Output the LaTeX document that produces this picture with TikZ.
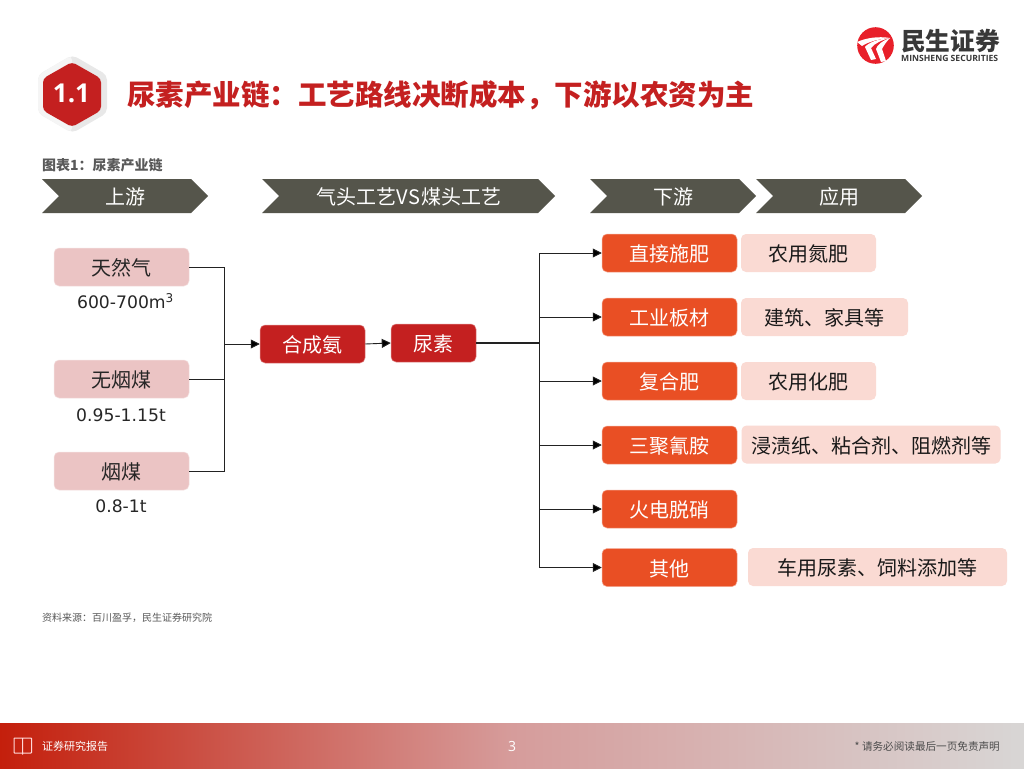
\documentclass[tikz,border=0pt]{standalone}
\usepackage{fontspec}
\setmainfont{Noto Sans CJK SC}
\newfontfamily\latinf{Open Sans}
\newfontfamily\subf{DejaVu Sans}
\usetikzlibrary{arrows.meta,shapes.geometric}
\definecolor{cred}{HTML}{C42020}
\definecolor{corange}{HTML}{E94F24}
\definecolor{cpink}{HTML}{EBC4C4}
\definecolor{clight}{HTML}{FADAD3}
\definecolor{cchev}{HTML}{55554B}
\definecolor{cline}{HTML}{222222}
\definecolor{footl}{HTML}{C41F0C}
\definecolor{footm}{HTML}{D69C9B}
\definecolor{footr}{HTML}{D8D6D5}
\definecolor{clogo}{HTML}{E8202A}
\tikzset{
  x=1pt,y=-1pt,
  boxbase/.style={rounded corners=5pt,inner sep=0pt,font=\fontsize{20}{24}\selectfont,text depth=0pt,text height=17.5pt},
  srcbox/.style={boxbase,fill=cpink,draw=cpink!50!white,line width=.5pt,text=black!85,minimum width=135pt,minimum height=38pt},
  redbox/.style={boxbase,fill=cred,draw=cred!50!white,line width=.5pt,text=white,minimum height=38pt},
  orbox/.style={boxbase,fill=corange,draw=corange!50!white,line width=.5pt,text=white,minimum width=135pt,minimum height=38pt},
  appbox/.style={boxbase,fill=clight,text=black!90,minimum height=38pt},
  chev/.style={fill=cchev,draw=none},
  chevtext/.style={text=white,inner sep=0pt,font=\fontsize{20}{24}\selectfont},
  sub/.style={inner sep=0pt,text=black!85,font=\subf\fontsize{17.2}{20}\selectfont},
  conn/.style={draw=cline,line width=.9pt},
  arr/.style={conn,-{Triangle[length=9pt,width=9pt,fill=black]}},
  plain/.style={inner sep=0pt}
}
\begin{document}
\begin{tikzpicture}
\useasboundingbox (0,0) rectangle (1024,768);
\fill[white] (0,0) rectangle (1024,768);
% footer
\shade[left color=footl,right color=footr,middle color=footm] (0,723) rectangle (1024,768);
% hexagon badge
\fill[black!9,rounded corners=5pt] (72.5,55) -- (107,75) -- (107,113) -- (72.5,133) -- (38,113) -- (38,75) -- cycle;
\fill[black!4,rounded corners=5pt] (72,55) -- (72,133) -- (38,113) -- (38,75) -- cycle;
\fill[cred,rounded corners=4pt] (72,62) -- (101,78.5) -- (101,110.5) -- (72,127) -- (43,110.5) -- (43,78.5) -- cycle;
\node[plain,text=white,font=\latinf\fontsize{26}{30}\bfseries\selectfont] (badge) at (71.5,93) {1.1};
\node[plain,anchor=west,text=cred,font=\fontsize{28.5}{32}\bfseries\selectfont] (title) at (127,95) {尿素产业链：工艺路线决断成本，下游以农资为主};
% logo
\fill[clogo] (875.5,45.5) circle (18.3);
\begin{scope}
\clip (875.5,45.5) circle (18.3);
\fill[white] (890,38) .. controls (878,36) and (866,38) .. (857,42) -- (862,46) .. controls (868,42) and (878,39) .. cycle;
\fill[white] (890,38) .. controls (877,39) and (868,43) .. (865,47) -- (871,60) -- (876,59) -- (871,48) .. controls (875,43) and (882,40) .. cycle;
\fill[white] (890,38) .. controls (882,41) and (877,45) .. (876,49) -- (881,62) -- (886,61) -- (882,49) .. controls (884,45) and (887,41) .. cycle;
\end{scope}
\node[plain,anchor=west,text=black!78,font=\fontsize{24.7}{28}\bfseries\selectfont] (logocn) at (901,41) {民生证券};
\node[plain,anchor=west,text=black!78,font=\latinf\fontsize{8.6}{10}\bfseries\selectfont] (logoen) at (901,58) {MINSHENG SECURITIES};
% caption
\node[plain,anchor=west,text=black!65,font=\fontsize{14}{16}\bfseries\selectfont] (cap) at (42,165) {图表1：尿素产业链};
% chevrons
\fill[chev] (42,179) -- (191,179) -- (208,196) -- (191,213) -- (42,213) -- (59,196) -- cycle;
\fill[chev] (262,179) -- (538,179) -- (555,196) -- (538,213) -- (262,213) -- (279,196) -- cycle;
\fill[chev] (590,179) -- (739,179) -- (756,196) -- (739,213) -- (590,213) -- (607,196) -- cycle;
\fill[chev] (756,179) -- (905,179) -- (922,196) -- (905,213) -- (756,213) -- (773,196) -- cycle;
\node[chevtext] (h1) at (125,197) {上游};
\node[chevtext] (h2) at (409,197) {气头工艺V\kern.4pt S\kern.4pt 煤头工艺};
\node[chevtext] (h3) at (673,197) {下游};
\node[chevtext] (h4) at (839,197) {应用};
% sources
\node[srcbox] (s1) at (121.5,267) {天然气};
\node[srcbox] (s2) at (121.5,379) {无烟煤};
\node[srcbox] (s3) at (121.5,471) {烟煤};
\node[sub] (l1) at (125.5,301) {600-700m\textsuperscript{3}};
\node[sub] (l2) at (121,415) {0.95-1.15t};
\node[sub] (l3) at (121,506) {0.8-1t};
% centre
\node[redbox,minimum width=105pt] (hca) at (312.5,344) {合成氨};
\node[redbox,minimum width=85pt] (ns) at (433.5,343) {尿素};
% downstream
\node[orbox] (t1) at (669.5,253) {直接施肥};
\node[orbox] (t2) at (669.5,317) {工业板材};
\node[orbox] (t3) at (669.5,381) {复合肥};
\node[orbox] (t4) at (669.5,445) {三聚氰胺};
\node[orbox] (t5) at (669.5,509) {火电脱硝};
\node[orbox] (t6) at (669.5,567.5) {其他};
% applications
\node[appbox,minimum width=135pt] (a1) at (808.5,253) {农用氮肥};
\node[appbox,minimum width=167pt] (a2) at (824.5,317) {建筑、家具等};
\node[appbox,minimum width=135pt] (a3) at (808.5,381) {农用化肥};
\node[appbox,minimum width=259pt] (a4) at (871,444.5) {浸渍纸、粘合剂、阻燃剂等};
\node[appbox,minimum width=259pt] (a6) at (877.5,567) {车用尿素、饲料添加等};
% connectors
\coordinate (j1) at (224,344);
\coordinate (j2) at (539,343);
\draw[conn] (s1.east) -| (j1);
\draw[conn] (s2.east) -- (s2.east -| j1);
\draw[conn] (s3.east) -| (j1);
\draw[arr] (j1) -- (hca.west);
\draw[arr] (hca.east) -- (ns.west);
\draw[conn,line width=1.4pt] (ns.east) -- (j2);
\draw[arr] (j2) |- (t1.west);
\draw[arr] (j2) |- (t2.west);
\draw[arr] (j2) |- (t3.west);
\draw[arr] (j2) |- (t4.west);
\draw[arr] (j2) |- (t5.west);
\draw[arr] (j2) |- (t6.west);
% source note
\node[plain,anchor=west,text=black!65,font=\fontsize{10}{12}\selectfont] (src) at (42,617.5) {资料来源：百川盈孚，民生证券研究院};
% footer contents
\draw[white!85!red,line width=1pt,rounded corners=.6pt] (22.5,738) -- (14,738) -- (14,753) -- (22.5,753) -- (31.5,753) -- (31.5,738) -- (22.5,738) -- (22.5,754.5);
\node[plain,anchor=west,text=white,font=\fontsize{11}{13}\selectfont] (rep) at (42,746) {证券研究报告};
\node[plain,text=white,font=\latinf\fontsize{14}{16}\selectfont] (pg) at (512,746) {3};
\node[plain,anchor=east,text=black!70,font=\fontsize{10.6}{13}\selectfont] (dis) at (1000,746) {* 请务必阅读最后一页免责声明};
\end{tikzpicture}
\end{document}
